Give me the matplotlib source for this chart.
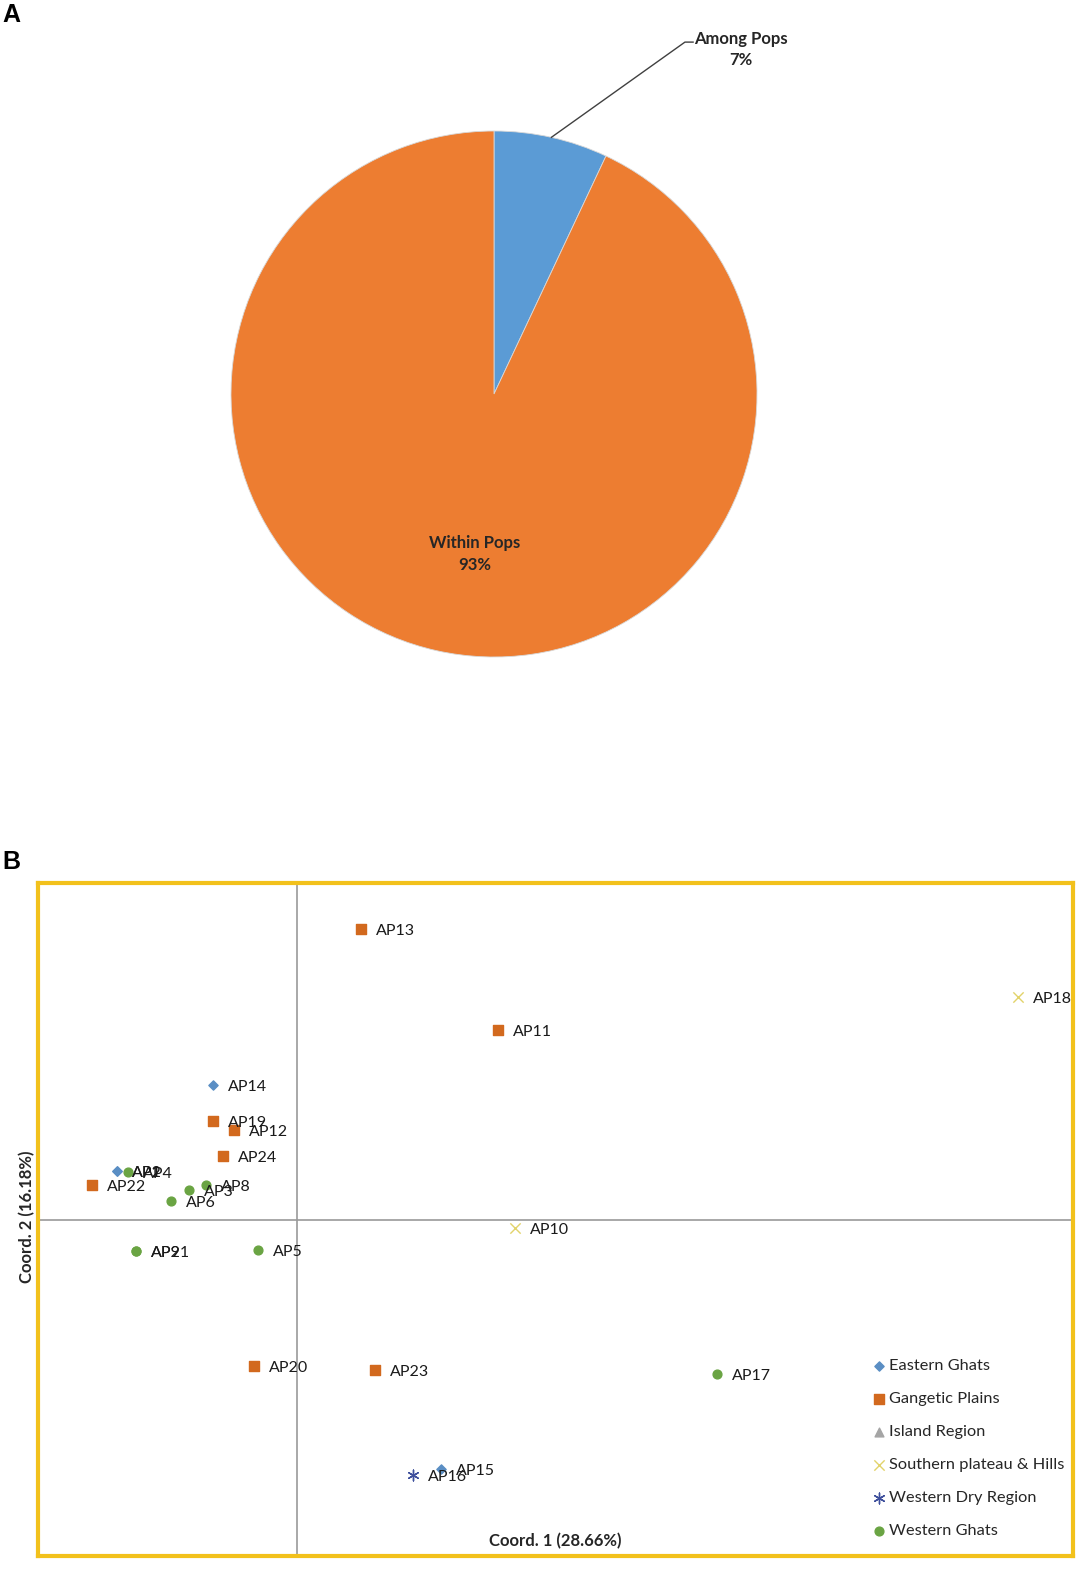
"""
AMOVA pie (A) and PCoA scatter (B) - recreated figure
"""

import numpy as np
import matplotlib.pyplot as plt

# AMOVA variance components (%)
amova_labels = ['Among Pops', 'Within Pops']
amova_values = [7, 93]
amova_colors = ['#5B9BD5', '#ED7D31']

# PCoA coordinates per region (Coord. 1, Coord. 2)
regions = ['Eastern Ghats', 'Gangetic Plains', 'Island Region',
           'Southern plateau & Hills', 'Western Dry Region', 'Western Ghats']

eg_names = ['AP14', 'AP1', 'AP2', 'AP15']
eg_x = [-0.42, -0.90, -0.90, 0.72]
eg_y = [0.675, 0.245, 0.245, -1.245]

gp_names = ['AP13', 'AP11', 'AP19', 'AP12', 'AP24', 'AP22', 'AP20', 'AP23']
gp_x = [0.32, 1.005, -0.42, -0.315, -0.37, -1.025, -0.215, 0.39]
gp_y = [1.455, 0.95, 0.495, 0.45, 0.32, 0.175, -0.73, -0.75]

ir_names = []
ir_x = []
ir_y = []

sp_names = ['AP18', 'AP10']
sp_x = [3.605, 1.09]
sp_y = [1.115, -0.04]

wd_names = ['AP16']
wd_x = [0.58]
wd_y = [-1.275]

wg_names = ['AP4', 'AP8', 'AP3', 'AP6', 'AP9', 'AP21', 'AP5', 'AP17']
wg_x = [-0.845, -0.455, -0.54, -0.63, -0.805, -0.805, -0.195, 2.10]
wg_y = [0.24, 0.175, 0.15, 0.095, -0.155, -0.155, -0.15, -0.77]

W, H = 1079, 1571
fig = plt.figure(figsize=(W / 100, H / 100), dpi=100)
fig.patch.set_facecolor('white')

# ---------- Panel A: pie ----------
ax_pie = fig.add_axes([(494 - 263) / W, (H - 657) / H, 526 / W, 526 / H])
wedges, _ = ax_pie.pie(amova_values, colors=amova_colors, startangle=90,
                       counterclock=False, radius=1,
                       wedgeprops=dict(edgecolor='#d8d8d8', linewidth=0.6))
ax_pie.set_xlim(-1, 1)
ax_pie.set_ylim(-1, 1)
ax_pie.set_aspect('equal')
ax_pie.axis('off')

# leader line from middle of the small wedge
w0 = wedges[0]
mid = np.deg2rad((w0.theta1 + w0.theta2) / 2)
sx, sy = np.cos(mid), np.sin(mid)
ax_pie.plot([sx, 0.726, 0.757], [sy, 1.338, 1.338], color='#404040',
            lw=1.0, clip_on=False)
ax_pie.text(0.939, 1.31, f'{amova_labels[0]}\n{amova_values[0]}%',
            ha='center', va='center', fontsize=12, fontweight='bold',
            family='Lato', color='#262626', linespacing=1.42)
ax_pie.text(-0.072, -0.608, f'{amova_labels[1]}\n{amova_values[1]}%',
            ha='center', va='center', fontsize=12, fontweight='bold',
            family='Lato', color='#262626', linespacing=1.5)

fig.text(2 / W, 1 - 15 / H, 'A', fontsize=18, fontweight='bold',
         family='Liberation Sans', va='center', ha='left')
fig.text(2 / W, 1 - 862 / H, 'B', fontsize=18, fontweight='bold',
         family='Liberation Sans', va='center', ha='left')

# ---------- Panel B: PCoA scatter ----------
ax = fig.add_axes([38 / W, (H - 1555.5) / H, 1035 / W, 673 / H])
ax.set_xlim(-1.295, 3.88)
ax.set_ylim(-1.68, 1.685)
ax.set_xticks([])
ax.set_yticks([])
for sp in ax.spines.values():
    sp.set_color('#F2C11C')
    sp.set_linewidth(3)

ax.axhline(0, color='#9a9a9a', lw=1.2, zorder=1)
ax.axvline(0, color='#9a9a9a', lw=1.2, zorder=1)

groups = [
    (eg_names, eg_x, eg_y, dict(marker='D', s=22, color='#5A8EC4')),
    (gp_names, gp_x, gp_y, dict(marker='s', s=42, color='#D2691E')),
    (ir_names, ir_x, ir_y, dict(marker='^', s=40, color='#A5A5A5')),
    (sp_names, sp_x, sp_y, dict(marker='x', s=55, color='#E2D36A', linewidths=1.0)),
    (wd_names, wd_x, wd_y, dict(marker=(6, 2, 0), s=60, color='#3E4F9C', linewidths=1.0)),
    (wg_names, wg_x, wg_y, dict(marker='o', s=40, color='#6AA443')),
]

for region, (names, xs, ys, style) in zip(regions, groups):
    ax.scatter(xs, ys, label=region, zorder=3, **style)
    for n, x, y in zip(names, xs, ys):
        ax.annotate(n, (x, y), xytext=(10.5, -1.5), textcoords='offset points',
                    ha='left', va='center', fontsize=11.5, family='Lato',
                    color='#1a1a1a', zorder=4)

leg = ax.legend(loc='upper left', bbox_to_anchor=((873 - 38) / 1035, (1555.5 - 1358.5) / 673),
                frameon=False, handlelength=0.7, handletextpad=0.3,
                labelspacing=1.13, borderpad=0, borderaxespad=0,
                prop=dict(family='Lato', size=11.8))
for t in leg.get_texts():
    t.set_color('#262626')

ax.text((555 - 38) / 1035, (1555.5 - 1541) / 673, 'Coord. 1 (28.66%)',
        transform=ax.transAxes, ha='center', va='center', fontsize=12,
        fontweight='bold', family='Lato', color='#262626')
fig.text(27 / W, 1 - 1217 / H, 'Coord. 2 (16.18%)', rotation=90,
         ha='center', va='center', fontsize=12, fontweight='bold',
         family='Lato', color='#262626')

fig.savefig('out.png', dpi=100, facecolor='white')
